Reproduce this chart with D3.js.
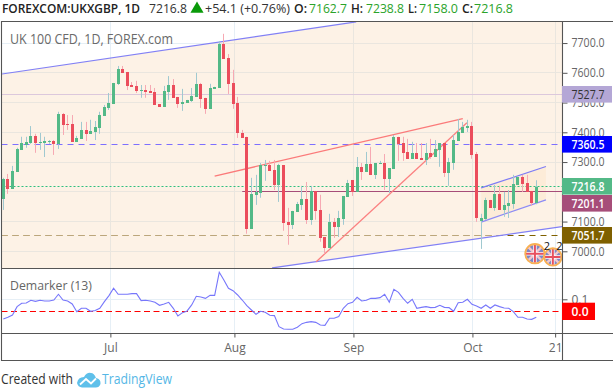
<!DOCTYPE html>
<html><head><meta charset="utf-8">
<script src="https://cdn.jsdelivr.net/npm/d3@7/dist/d3.min.js"></script>
<style>html,body{margin:0;padding:0;background:#fff;overflow:hidden}svg{display:block}text{font-family:"Open Sans","Noto Sans",sans-serif}</style>
</head><body><svg id="c" width="613" height="390"></svg>
<script>
const opens=[7176,7243,7210,7267,7341,7358,7364,7388,7364,7364,7368,7371,7361,7462,7428,7428,7368,7378,7408,7395,7401,7415,7455,7482,7495,7563,7613,7603,7559,7556,7539,7542,7539,7536,7495,7485,7536,7559,7519,7495,7499,7505,7519,7563,7516,7479,7546,7549,7697,7650,7566,7499,7398,7385,7075,7190,7196,7287,7290,7274,7223,7290,7099,7089,7132,7156,7176,7106,7203,7139,7048,7011,7099,7082,7109,7183,7240,7200,7284,7267,7294,7257,7294,7297,7243,7277,7385,7364,7334,7311,7331,7314,7307,7331,7317,7341,7364,7264,7297,7371,7398,7415,7421,7327,7102,7109,7173,7146,7193,7139,7153,7159,7223,7250,7230,7203,7162.7];
const highs=[7247,7260,7287,7348,7385,7385,7421,7395,7398,7385,7374,7374,7469,7465,7458,7458,7388,7435,7435,7442,7438,7469,7492,7532,7566,7623,7623,7603,7569,7573,7559,7559,7559,7549,7495,7556,7589,7579,7519,7546,7509,7549,7600,7566,7516,7563,7553,7707,7731,7663,7610,7519,7408,7385,7247,7257,7297,7307,7304,7307,7294,7290,7146,7136,7166,7220,7233,7220,7203,7190,7048,7126,7112,7136,7186,7240,7240,7317,7297,7334,7351,7297,7304,7327,7280,7391,7385,7385,7378,7368,7364,7364,7364,7378,7374,7364,7364,7314,7391,7445,7435,7442,7435,7334,7126,7180,7173,7223,7220,7200,7206,7257,7253,7257,7257,7203,7238.8];
const lows=[7139,7193,7210,7267,7341,7348,7361,7331,7341,7317,7361,7324,7344,7391,7408,7368,7368,7378,7371,7395,7374,7395,7455,7475,7495,7559,7600,7542,7553,7532,7516,7516,7532,7492,7485,7485,7509,7516,7482,7472,7499,7502,7519,7482,7462,7479,7546,7549,7647,7529,7479,7381,7381,7059,7075,7156,7180,7237,7270,7206,7166,7069,7022,7075,7132,7139,7092,7089,7106,7032,6991,7011,7045,7048,7089,7183,7186,7200,7240,7267,7257,7243,7294,7206,7196,7277,7304,7304,7311,7311,7311,7307,7290,7311,7317,7284,7250,7220,7274,7371,7398,7401,7311,7099,7008,7106,7146,7136,7139,7116,7112,7143,7223,7200,7200,7153,7158];
const closes=[7243,7210,7270,7344,7364,7368,7388,7364,7368,7371,7371,7361,7462,7425,7425,7368,7381,7408,7395,7405,7418,7458,7485,7499,7566,7613,7600,7556,7553,7539,7542,7536,7532,7492,7485,7539,7559,7516,7495,7502,7509,7522,7563,7512,7479,7549,7553,7697,7647,7563,7495,7398,7381,7075,7193,7200,7290,7290,7270,7223,7290,7095,7089,7136,7159,7176,7106,7203,7136,7045,7011,7099,7082,7112,7186,7230,7200,7284,7267,7294,7257,7297,7297,7243,7280,7385,7361,7331,7311,7331,7311,7307,7331,7317,7344,7364,7264,7300,7374,7401,7418,7421,7324,7112,7112,7173,7146,7193,7139,7156,7163,7227,7250,7227,7200,7163,7216.8];
const demarker=[-0.064,-0.050,-0.031,0.039,0.067,0.069,0.092,0.083,0.092,0.086,0.086,0.094,0.142,0.094,0.086,0.061,-0.003,0.025,0.025,0,0.006,0.025,0.081,0.131,0.192,0.142,0.142,0.142,0.147,0.147,0.089,0.092,0.086,0.075,0.050,0.061,0.075,0.025,-0.039,-0.011,0.003,0.053,0.125,0.119,0.108,0.133,0.133,0.325,0.261,0.192,0.172,0.136,0.094,0.047,0.011,-0.025,0,-0.008,-0.033,-0.036,-0.128,-0.147,-0.150,-0.150,-0.133,-0.103,-0.092,-0.086,-0.092,-0.114,-0.117,-0.058,-0.058,-0.044,0.025,0.064,0.075,0.117,0.086,0.092,0.108,0.108,0.114,0.142,0.075,0.183,0.158,0.108,0.067,0.100,0.025,0.033,0.039,0.031,0.033,0.050,0.033,0.031,0,0.072,0.075,0.100,0.058,0.044,0.025,0.053,0.025,0.053,0.039,0.028,0.025,-0.003,-0.050,-0.050,-0.064,-0.067,-0.050];
const priceGrid=[7000,7100,7200,7300,7400,7500,7600,7700];
const priceTicks=[7000,7100,7300,7400,7500,7600,7700];
const timeTickLabels=["Jul","Aug","Sep","Oct","21"];
const timeTickIndex=[23.3,50.3,76.2,102.1,120.1];
const upperChannel=[[-0.28,7596],[76.8,7771]];
const lowerChannel=[[58.5,6944],[121.6,7083]];
const redUpper=[[46,7253],[100,7446]];
const redLower=[[68.1,6965],[100.9,7432]];
const miniUpper=[[104,7213],[118.1,7285]];
const miniLower=[[104,7098],[118.1,7173]];
const eventFlags=[[115.7,6992,10.5],[119.6,6981,9.5]];
const eventCounts=[[118.3,"2"],[121,"2"]];

const svg=d3.select("#c");
const paneL=1.5,paneR=562,paneT=21.5,paneB=268,indT=269,indB=333.5;
const x=d3.scaleLinear().domain([0,116]).range([3.3,536.3]);
const y=d3.scaleLinear().domain([7000,7700]).range([251.3,43.05]);
const yi=d3.scaleLinear().domain([0,0.1]).range([311.3,299.3]);
const defs=svg.append("defs");
defs.append("clipPath").attr("id","pane").append("rect").attr("x",paneL).attr("y",paneT).attr("width",paneR-paneL).attr("height",paneB-paneT);
defs.append("clipPath").attr("id","ind").append("rect").attr("x",paneL).attr("y",indT).attr("width",paneR-paneL).attr("height",indB-indT);
const peachPts=[[x(upperChannel[0][0]),y(upperChannel[0][1])],[x(upperChannel[1][0]),y(upperChannel[1][1])],[paneR,paneT],[x(lowerChannel[1][0]),y(lowerChannel[1][1])],[x(lowerChannel[0][0]),y(lowerChannel[0][1])],[paneL,paneB]];
defs.append("clipPath").attr("id","peach").append("polygon").attr("points",peachPts.join(" "));

const pane=svg.append("g").attr("clip-path","url(#pane)");
const grid="#e6eff6";
const sn=v=>Math.round(v)+0.5;
const gridG=pane.append("g");
priceGrid.forEach(p=>gridG.append("line").attr("x1",paneL).attr("x2",paneR).attr("y1",sn(y(p)-.5)).attr("y2",sn(y(p)-.5)).attr("stroke",grid));
timeTickIndex.forEach(i=>gridG.append("line").attr("x1",sn(x(i)-.5)).attr("x2",sn(x(i)-.5)).attr("y1",paneT).attr("y2",paneB).attr("stroke",grid));

const level=(g,p,col,dash,x0)=>g.append("line").attr("x1",x0||paneL).attr("x2",paneR).attr("y1",sn(y(p)-.5)).attr("y2",sn(y(p)-.5)).attr("stroke",col).attr("stroke-dasharray",dash||null);
level(pane,7051.7,"#7f6000","6,5");
pane.append("polygon").attr("points",peachPts.join(" ")).attr("fill","rgba(249,203,156,0.25)");
pane.append("g").attr("clip-path","url(#peach)").call(g=>level(g,7051.7,"#bba67c","6,5"));
const area=d3.area().x(d=>d[0]).y0(d=>d[1]).y1(d=>d[2]);
pane.append("path").attr("d",area(miniUpper.map((d,k)=>[x(d[0]),y(d[1]),y(miniLower[k][1])]))).attr("fill","rgba(255,152,0,0.06)");
level(pane,7527.7,"#dcc8dc");
level(pane,7360.5,"#7d6fff","6,5");
level(pane,7201.1,"#a64d79",null,x(52));
level(pane,7216.8,"#2fbf7f","2,2");
const ln=d3.line().x(d=>x(d[0])).y(d=>y(d[1]));
const tr=(d,c,w)=>pane.append("path").attr("d",ln(d)).attr("fill","none").attr("stroke",c).attr("stroke-width",w||1.2);
tr(upperChannel,"#8280f5");tr(lowerChannel,"#8280f5");tr(miniUpper,"#7d7bf5");tr(miniLower,"#8d8bf5");
tr(redUpper,"#fb7a7a",1.3);tr(redLower,"#fb8080",1.3);

const idx=d3.range(opens.length);
const up=i=>closes[i]>=opens[i];
pane.append("g").selectAll("line").data(idx).join("line")
 .attr("x1",i=>sn(x(i)-.5)).attr("x2",i=>sn(x(i)-.5)).attr("y1",i=>y(highs[i])).attr("y2",i=>y(lows[i]))
 .attr("stroke",i=>up(i)?"#a0c9d0":"#f7a9b3");
pane.append("g").selectAll("rect").data(idx).join("rect")
 .attr("x",i=>Math.round(x(i)-1.5)).attr("width",3)
 .attr("y",i=>Math.round(y(Math.max(opens[i],closes[i]))))
 .attr("height",i=>Math.max(1,Math.round(Math.abs(y(opens[i])-y(closes[i])))))
 .attr("fill",i=>up(i)?"#53b987":"#eb4d5c");

eventFlags.forEach((e,k)=>{
 const cx=x(e[0]),cy=y(e[1]),r=e[2];
 const id="flag"+k;
 defs.append("clipPath").attr("id",id).append("circle").attr("cx",cx).attr("cy",cy).attr("r",r-1.5);
 const g=pane.append("g");
 const f=g.append("g").attr("clip-path",`url(#${id})`);
 f.append("rect").attr("x",cx-r).attr("y",cy-r).attr("width",2*r).attr("height",2*r).attr("fill","#7f88c4");
 [[-1,-1,1,1],[-1,1,1,-1]].forEach(a=>f.append("line").attr("x1",cx+a[0]*r).attr("y1",cy+a[1]*r).attr("x2",cx+a[2]*r).attr("y2",cy+a[3]*r).attr("stroke","#f4c8cc").attr("stroke-width",2.4));
 f.append("line").attr("x1",cx-r).attr("x2",cx+r).attr("y1",cy).attr("y2",cy).attr("stroke","#fff").attr("stroke-width",3.5);
 f.append("line").attr("y1",cy-r).attr("y2",cy+r).attr("x1",cx).attr("x2",cx).attr("stroke","#fff").attr("stroke-width",3.5);
 f.append("line").attr("x1",cx-r).attr("x2",cx+r).attr("y1",cy).attr("y2",cy).attr("stroke","#e8505e").attr("stroke-width",2);
 f.append("line").attr("y1",cy-r).attr("y2",cy+r).attr("x1",cx).attr("x2",cx).attr("stroke","#e8505e").attr("stroke-width",2);
 g.append("circle").attr("cx",cx).attr("cy",cy).attr("r",r-.8).attr("fill","none").attr("stroke","#f8b053").attr("stroke-width",1.8);
});
eventCounts.forEach(t=>pane.append("text").attr("x",x(t[0])).attr("y",250).attr("text-anchor","middle").attr("font-size",11).attr("fill","#111").text(t[1]));

const ip=svg.append("g").attr("clip-path","url(#ind)");
[0.1].forEach(v=>ip.append("line").attr("x1",paneL).attr("x2",paneR).attr("y1",sn(yi(v)-.5)).attr("y2",sn(yi(v)-.5)).attr("stroke",grid));
timeTickIndex.forEach(i=>ip.append("line").attr("x1",sn(x(i)-.5)).attr("x2",sn(x(i)-.5)).attr("y1",indT).attr("y2",indB).attr("stroke",grid));
ip.append("line").attr("x1",paneL).attr("x2",paneR).attr("y1",sn(yi(0)-.5)).attr("y2",sn(yi(0)-.5)).attr("stroke","#ff0000").attr("stroke-dasharray","6,3.5");
ip.append("path").attr("d",d3.line().x((d,i)=>x(i)).y(d=>yi(d))(demarker)).attr("fill","none").attr("stroke","#7777fb").attr("stroke-width",1.1);

const fc="#555";
const hl=(yy,x1,x2)=>svg.append("line").attr("x1",x1).attr("x2",x2).attr("y1",yy).attr("y2",yy).attr("stroke",fc).attr("stroke-width",1.1);
hl(21.5,1,613);hl(268.5,1,613);hl(333.5,1,613);hl(360.5,1,613);
svg.append("line").attr("x1",1.5).attr("x2",1.5).attr("y1",21).attr("y2",361).attr("stroke",fc).attr("stroke-width",1.1);
svg.append("line").attr("x1",562.5).attr("x2",562.5).attr("y1",21).attr("y2",361).attr("stroke",fc).attr("stroke-width",1.1);

const axisFont=12;
const fitNum=s=>s.attr("textLength",33).attr("lengthAdjust","spacingAndGlyphs");
const yAxis=d3.axisRight(y).tickValues(priceTicks).tickSize(5).tickFormat(d3.format(".1f"));
const yg=svg.append("g").attr("transform","translate(562.5,0)").call(yAxis);
const yig=svg.append("g").attr("transform","translate(562.5,0)").call(d3.axisRight(yi).tickValues([0.1]).tickSize(5).tickFormat(d3.format(".1f")));
const xAxis=d3.axisBottom(x).tickValues(timeTickIndex).tickSize(4).tickFormat((d,i)=>timeTickLabels[i]);
const xg=svg.append("g").attr("transform","translate(0,333.5)").call(xAxis);
[yg,yig,xg].forEach(g=>{g.select(".domain").remove();g.selectAll("line").attr("stroke",fc);
 g.selectAll("text").attr("font-family",'"Open Sans"').attr("font-size",axisFont).attr("fill","#666");});
yg.selectAll("text").attr("x",9).call(fitNum);yig.selectAll("text").attr("x",9);
xg.selectAll("text").attr("y",10).attr("dy","0.71em");

const priceLabels=[[7527.7,"#b4a7d6","#333",86],[7360.5,"#0000ff","#fff",136],[7216.8,"#53b987","#fff",178],[7201.1,"#a64d79","#fff",195],[7051.7,"#7f6000","#fff",227]];
priceLabels.forEach(l=>{
 svg.append("rect").attr("x",562).attr("y",l[3]).attr("width",50).attr("height",16.6).attr("fill",l[1]);
 svg.append("text").attr("x",571.5).attr("y",l[3]+12.8).attr("font-size",axisFont).attr("font-weight",l[2]=="#fff"?600:400).attr("fill",l[2]).text(d3.format(".1f")(l[0])).call(fitNum);
});
svg.append("rect").attr("x",562).attr("y",302.7).attr("width",33).attr("height",17.3).attr("fill","#ff0000");
svg.append("text").attr("x",571.5).attr("y",315.7).attr("font-size",axisFont).attr("font-weight",600).attr("fill","#fff").text("0.0");

const header=[["FOREXCOM:UKXGBP, 1D",2,138,"#222",600],["7216.8",149,38,"#333",400],["+54.1 (+0.76%)",205,85,"#333",400],["O:",294,13,"#222",600],["7162.7",309,38,"#2aa32a",400],["H:",351,12,"#222",600],["7238.8",366,38,"#2aa32a",400],["L:",408,9,"#222",600],["7158.0",419,39,"#2aa32a",400],["C:",462,11,"#222",600],["7216.8",474,39,"#2aa32a",400]];
header.forEach(h=>svg.append("text").attr("x",h[1]).attr("y",13).attr("font-size",13).attr("font-weight",h[4]).attr("fill",h[3]).attr("textLength",h[2]).attr("lengthAdjust","spacingAndGlyphs").text(h[0]));
svg.append("path").attr("d",d3.symbol(d3.symbolTriangle,75)()).attr("transform","translate(197,9)").attr("fill","#0a9a0a");

svg.append("text").attr("x",10).attr("y",43.5).attr("font-size",14).attr("font-weight",500).attr("fill","#6a6a6a").attr("textLength",163).attr("lengthAdjust","spacingAndGlyphs").text("UK 100 CFD, 1D, FOREX.com");
svg.append("text").attr("x",10).attr("y",290).attr("font-size",13).attr("fill","#666").attr("textLength",82).attr("lengthAdjust","spacingAndGlyphs").text("Demarker (13)");
svg.append("text").attr("x",1).attr("y",384).attr("font-size",14).attr("fill","#333").attr("textLength",72).attr("lengthAdjust","spacingAndGlyphs").text("Created with");
svg.append("text").attr("x",102).attr("y",384).attr("font-size",14).attr("fill","#55b7e6").attr("textLength",70).attr("lengthAdjust","spacingAndGlyphs").text("TradingView");
svg.append("path").attr("transform","translate(77,371)").attr("fill","#5fc0ea").attr("d","M0,12 Q1,6 7,6 Q10,1 14,2 Q17,2 19,7 Q24,8 23.5,13 Q22,17 18,16.5 L5,16.5 Q1,16 0,12Z");
svg.append("path").attr("transform","translate(77,371)").attr("fill","none").attr("stroke","#fff").attr("stroke-width",1.8).attr("d","M3,13.5 L9,8 L14,12.5 L19,7.5");
</script></body></html>
